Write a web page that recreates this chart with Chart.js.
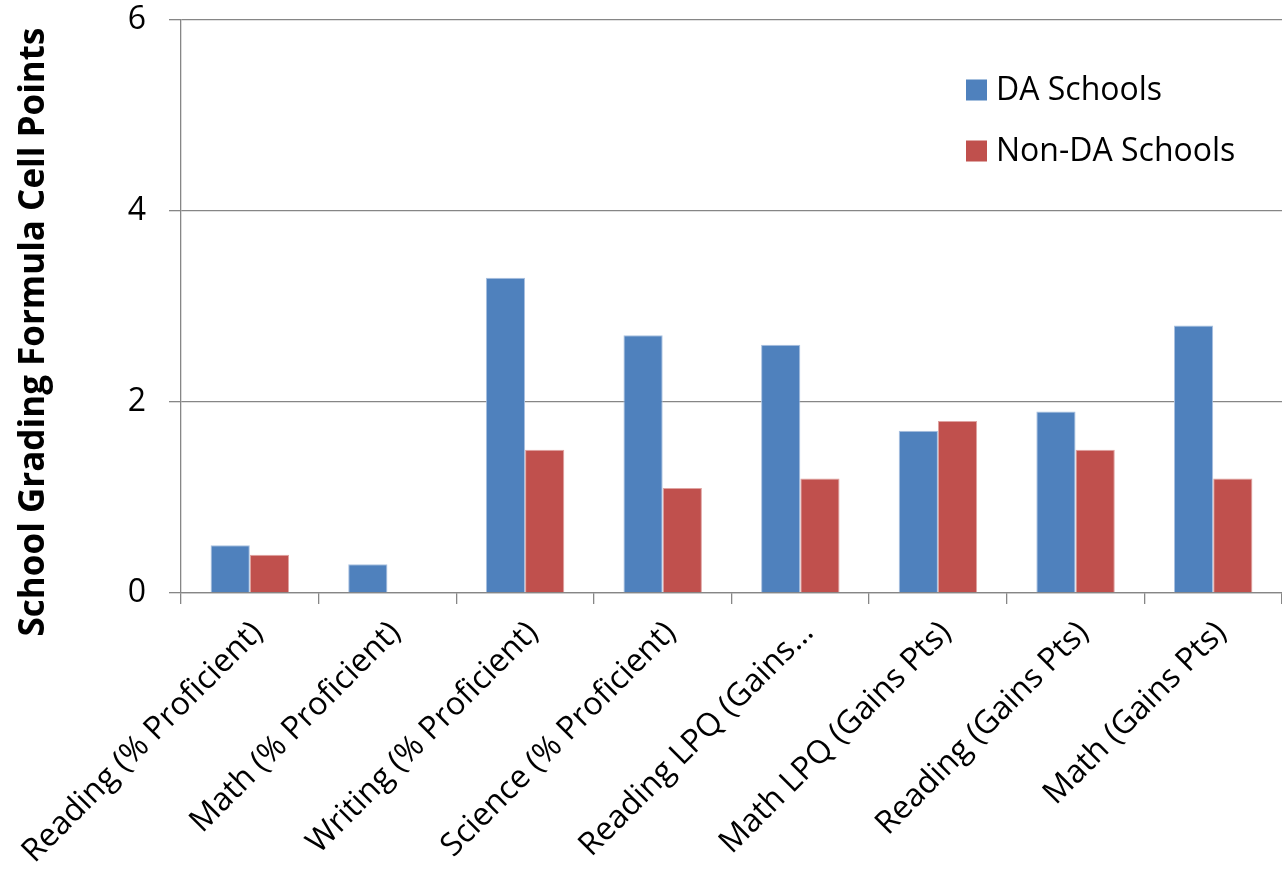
<!DOCTYPE html>
<html>
<head>
<meta charset="utf-8">
<script src="https://cdn.jsdelivr.net/npm/chart.js@4/dist/chart.umd.min.js"></script>
<style>
  html, body { margin: 0; padding: 0; background: #ffffff; }
  canvas { display: block; }
</style>
</head>
<body>
<canvas id="c" width="1282" height="877"></canvas>
<script>
// Category labels along the horizontal axis
const categories = [
  "Reading (% Proficient)",
  "Math (% Proficient)",
  "Writing (% Proficient)",
  "Science (% Proficient)",
  "Reading LPQ (Gains\u2026",
  "Math LPQ (Gains Pts)",
  "Reading (Gains Pts)",
  "Math (Gains Pts)"
];

// Average cell points per school group
const daSchools    = [0.5, 0.3, 3.3, 2.7, 2.6, 1.7, 1.9, 2.8];
const nonDaSchools = [0.4, 0.0, 1.5, 1.1, 1.2, 1.8, 1.5, 1.2];

const seriesNames = ["DA Schools", "Non-DA Schools"];
const yTicks = [0, 2, 4, 6];
const yTitle = "School Grading Formula Cell Points";

const FONT = "'Open Sans', sans-serif";
const GRID = "#868686";

// Legend drawn inside the plot area, top right
const innerLegend = {
  id: "innerLegend",
  afterDraw(chart) {
    const ctx = chart.ctx;
    ctx.save();
    ctx.font = "32px " + FONT;
    ctx.textBaseline = "middle";
    ctx.textAlign = "left";
    chart.data.datasets.forEach((ds, i) => {
      const cy = 90 + i * 61;
      ctx.fillStyle = ds.backgroundColor;
      ctx.fillRect(966, cy - 10.5, 21, 21);
      ctx.fillStyle = "#000000";
      ctx.fillText(ds.label, 996, cy + 1);
    });
    ctx.restore();
  }
};

// Vertical axis title, centred beside the value axis
const axisTitle = {
  id: "axisTitle",
  afterDraw(chart) {
    const ctx = chart.ctx;
    ctx.save();
    ctx.translate(34, 332);
    ctx.rotate(-Math.PI / 2);
    ctx.font = "bold 35px " + FONT;
    ctx.fillStyle = "#000000";
    ctx.textAlign = "center";
    ctx.textBaseline = "middle";
    ctx.fillText(yTitle, 0, 0);
    ctx.restore();
  }
};

new Chart(document.getElementById("c"), {
  type: "bar",
  data: {
    labels: categories,
    datasets: [
      {
        label: seriesNames[0],
        data: daSchools,
        backgroundColor: "#4F81BD",
        borderColor: "#A9C1E0",
        borderWidth: 1
      },
      {
        label: seriesNames[1],
        data: nonDaSchools,
        backgroundColor: "#C0504D",
        borderColor: "#DFA3A1",
        borderWidth: 1
      }
    ]
  },
  options: {
    responsive: false,
    animation: false,
    layout: { padding: { top: 20, right: 0, bottom: 0, left: 0 } },
    datasets: {
      bar: { categoryPercentage: 0.57, barPercentage: 1.0 }
    },
    plugins: {
      legend: { display: false },
      tooltip: { enabled: false }
    },
    scales: {
      x: {
        grid: {
          display: true,
          drawOnChartArea: false,
          drawTicks: true,
          tickLength: 11,
          color: GRID,
          lineWidth: 1.3
        },
        border: { display: true, color: GRID, width: 1.3 },
        ticks: {
          autoSkip: false,
          maxRotation: 45,
          minRotation: 45,
          padding: 10,
          labelOffset: 8,
          color: "#000000",
          font: { family: FONT, size: 32 }
        },
        afterFit(scale) {
          scale.height = 284;
          scale.paddingLeft = 0;
          scale.paddingRight = 0;
        }
      },
      y: {
        min: 0,
        max: 6,
        afterBuildTicks(scale) { scale.ticks = yTicks.map(v => ({ value: v })); },
        grid: {
          color: GRID,
          lineWidth: 1.3,
          drawTicks: true,
          tickLength: 12
        },
        border: { display: true, color: GRID, width: 1.3 },
        ticks: {
          padding: 23,
          color: "#000000",
          font: { family: FONT, size: 32 }
        },
        afterFit(scale) {
          scale.width = 181;
          scale.paddingTop = 0;
          scale.paddingBottom = 0;
        }
      }
    }
  },
  plugins: [innerLegend, axisTitle]
});
</script>
</body>
</html>
